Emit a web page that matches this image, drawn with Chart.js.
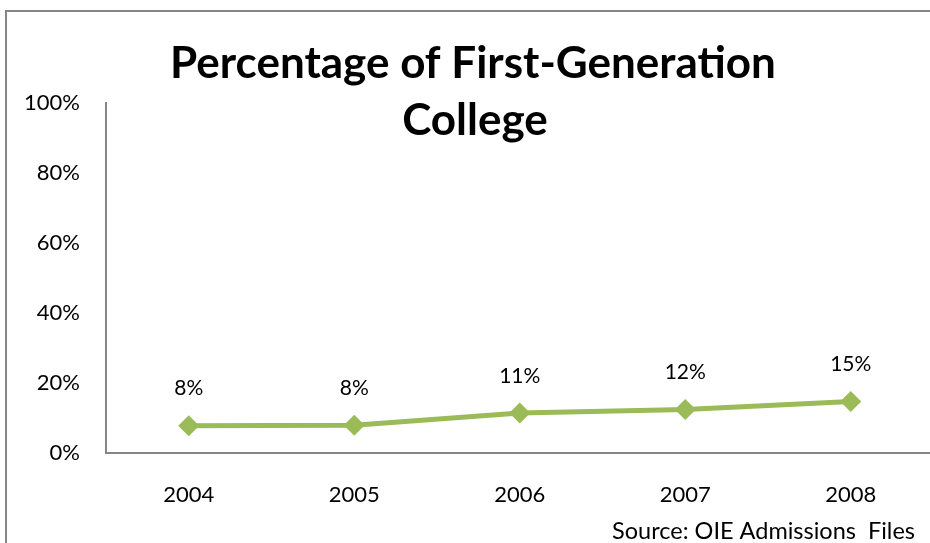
<!DOCTYPE html>
<html>
<head>
<meta charset="utf-8">
<script src="https://cdn.jsdelivr.net/npm/chart.js@4"></script>
<style>
  html, body { margin: 0; padding: 0; background: #fff; overflow: hidden; }
  #wrap { width: 944px; height: 543px; }
</style>
</head>
<body>
<div id="wrap"><canvas id="myChart" width="944" height="543"></canvas></div>
<script>
const years = ["2004", "2005", "2006", "2007", "2008"];
const percents = [7.8, 7.9, 11.4, 12.4, 14.7];
const pointLabels = ["8%", "8%", "11%", "12%", "15%"];
const titleLines = ["Percentage of First-Generation", "College"];
const sourceNote = "Source: OIE Admissions  Files";

const FONT = "Lato, 'Open Sans', sans-serif";
const GREEN = "#9BBB59";
const AXIS = "#868686";

// frame, title, value labels and source note
const extras = {
  id: "extras",
  beforeDraw(chart) {
    const ctx = chart.ctx;
    ctx.save();
    ctx.strokeStyle = AXIS;
    ctx.lineWidth = 2;
    ctx.strokeRect(6, 11, 1000, 600);
    ctx.restore();
  },
  afterDraw(chart) {
    const ctx = chart.ctx;
    ctx.save();
    ctx.fillStyle = "#000";
    ctx.textAlign = "center";
    ctx.textBaseline = "alphabetic";
    ctx.font = "bold 44px " + FONT;
    ctx.fillText(titleLines[0], 473, 78, 606);
    ctx.fillText(titleLines[1], 475, 135);

    const meta = chart.getDatasetMeta(0);
    ctx.font = "21px " + FONT;
    ctx.textBaseline = "middle";
    meta.data.forEach((pt, i) => {
      ctx.fillText(pointLabels[i], pt.x, pt.y - 37);
    });

    ctx.textAlign = "right";
    ctx.font = "23.5px " + FONT;
    ctx.fillText(sourceNote, 915, 531, 306);
    ctx.restore();
  },
};

const config = {
  type: "line",
  data: {
    labels: years,
    datasets: [
      {
        data: percents,
        borderColor: GREEN,
        backgroundColor: GREEN,
        borderWidth: 5,
        pointStyle: "rectRot",
        pointRadius: 10.5,
        pointHoverRadius: 10.5,
        pointBorderWidth: 0,
        tension: 0,
      },
    ],
  },
  options: {
    responsive: false,
    animation: false,
    layout: {
      padding: { top: 103, right: 0, bottom: 0, left: 0 },
    },
    scales: {
      x: {
        offset: true,
        grid: { display: false, drawTicks: false },
        border: { color: AXIS, width: 2 },
        ticks: {
          color: "#000",
          padding: 29,
          font: { family: FONT, size: 22 },
        },
        afterFit: (scale) => {
          scale.height = 90;
        },
      },
      y: {
        min: 0,
        max: 100,
        grid: { display: false, drawTicks: false },
        border: { color: AXIS, width: 2 },
        ticks: {
          stepSize: 20,
          color: "#000",
          padding: 26,
          font: { family: FONT, size: 22 },
          callback: (v) => v + "%",
        },
        afterFit: (scale) => {
          scale.width = 106;
        },
      },
    },
    plugins: {
      legend: { display: false },
      title: { display: false },
      tooltip: { enabled: false },
    },
  },
  plugins: [extras],
};

const myChart = new Chart(document.getElementById("myChart"), config);
</script>
</body>
</html>
